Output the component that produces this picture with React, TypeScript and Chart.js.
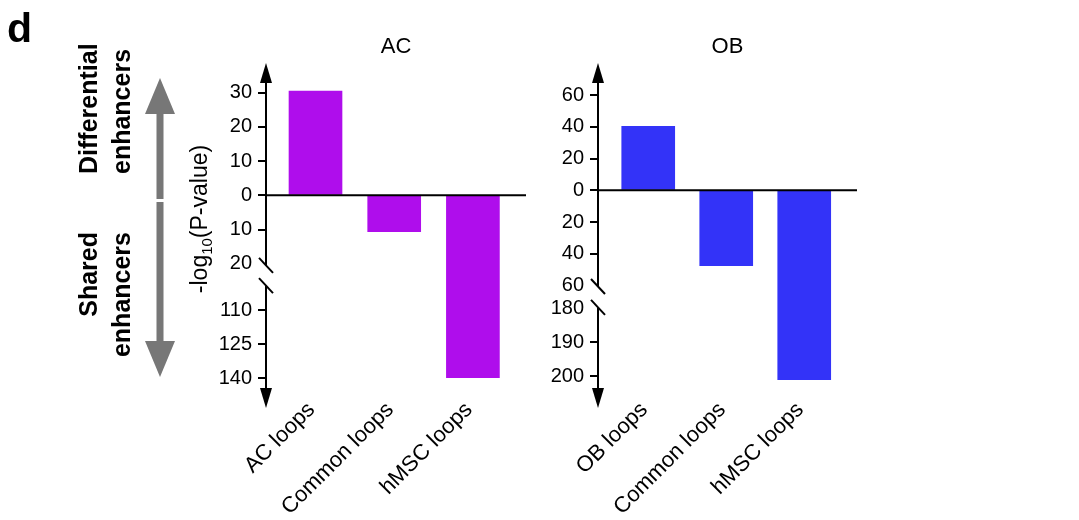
import React, { useEffect, useRef } from "react";
import { Chart, registerables } from "chart.js";

Chart.register(...registerables);

const FONT = '"Liberation Sans", Arial, Helvetica, sans-serif';

// ---- Data: AC panel (positive = differential enhancers, negative = shared enhancers)
const acCategories = ["AC loops", "Common loops", "hMSC loops"];
const acValues = [30.5, -10.6, -139.8];
const acTicksUp = [0, 10, 20, 30];
const acTicksDown = [10, 20, 110, 125, 140];

// ---- Data: OB panel
const obCategories = ["OB loops", "Common loops", "hMSC loops"];
const obValues = [40.4, -47.6, -201];
const obTicksUp = [0, 20, 40, 60];
const obTicksDown = [20, 40, 60, 180, 190, 200];

const W = 1079;
const H = 520;
const CHART_TOP = 60;
const CHART_BOTTOM = 392;
const Y_W = 70;
const LABEL_SHIFT_PX = -4;

interface Panel {
  title: string;
  categories: string[];
  values: number[];
  ticksUp: number[];
  ticksDown: number[];
  color: string;
  brkLow: number;
  brkHigh: number;
  hiStart: number;
  k: number;
  noMark: number[];
  slashes: [number, number];
  axisX: number;
  zeroY: number;
  pxPerUnit: number;
  right: number;
  xOffset: number;
  xSpacing: number;
  annotate: boolean;
}

const panels: Panel[] = [
  {
    title: "AC",
    categories: acCategories,
    values: acValues,
    ticksUp: acTicksUp,
    ticksDown: acTicksDown,
    color: "#AF0DEC",
    brkLow: 20,
    brkHigh: 110,
    hiStart: 33.6,
    k: 0.663,
    noMark: [20],
    slashes: [20.5, 26.4],
    axisX: 266,
    zeroY: 195.3,
    pxPerUnit: 3.42,
    right: 526,
    xOffset: 0.629,
    xSpacing: 78.7,
    annotate: true,
  },
  {
    title: "OB",
    categories: obCategories,
    values: obValues,
    ticksUp: obTicksUp,
    ticksDown: obTicksDown,
    color: "#3333F8",
    brkLow: 60,
    brkHigh: 180,
    hiStart: 74.45,
    k: 2.145,
    noMark: [60, 180],
    slashes: [60.7, 73.9],
    axisX: 598,
    zeroY: 190.3,
    pxPerUnit: 1.585,
    right: 857,
    xOffset: 0.644,
    xSpacing: 78,
    annotate: false,
  },
];

function toDisp(p: Panel, v: number): number {
  if (v >= 0) return v;
  const a = -v;
  if (a <= p.brkLow + 1e-9) return -a;
  return -(p.hiStart + (a - p.brkHigh) * p.k);
}

function line(ctx: CanvasRenderingContext2D, x1: number, y1: number, x2: number, y2: number) {
  ctx.beginPath();
  ctx.moveTo(x1, y1);
  ctx.lineTo(x2, y2);
  ctx.stroke();
}

function tri(ctx: CanvasRenderingContext2D, pts: number[]) {
  ctx.beginPath();
  ctx.moveTo(pts[0], pts[1]);
  ctx.lineTo(pts[2], pts[3]);
  ctx.lineTo(pts[4], pts[5]);
  ctx.closePath();
  ctx.fill();
}

function drawAnnotations(ctx: CanvasRenderingContext2D) {
  ctx.save();
  ctx.fillStyle = "#000";
  ctx.font = `bold 41px ${FONT}`;
  ctx.textAlign = "left";
  ctx.textBaseline = "alphabetic";
  ctx.fillText("d", 7, 42);

  // rotated side labels
  ctx.font = `bold 25px ${FONT}`;
  const rot = (text: string, x: number, y: number, align: CanvasTextAlign) => {
    ctx.save();
    ctx.translate(x, y);
    ctx.rotate(-Math.PI / 2);
    ctx.textAlign = align;
    ctx.textBaseline = "alphabetic";
    ctx.fillText(text, 0, 0);
    ctx.restore();
  };
  rot("Differential", 97, 174, "left");
  rot("enhancers", 130, 174, "left");
  rot("Shared", 97, 232, "right");
  rot("enhancers", 130, 232, "right");

  // grey double arrow
  ctx.fillStyle = "#777777";
  const cx = 160;
  ctx.fillRect(cx - 3.5, 110, 7, 89);
  tri(ctx, [cx, 78, cx - 15, 114, cx + 15, 114]);
  ctx.fillRect(cx - 3.5, 202, 7, 140);
  tri(ctx, [cx, 377, cx - 15, 341, cx + 15, 341]);

  // y-axis title with subscript
  ctx.fillStyle = "#000";
  ctx.save();
  ctx.translate(207, 219);
  ctx.rotate(-Math.PI / 2);
  ctx.textBaseline = "alphabetic";
  ctx.textAlign = "left";
  const mainFont = `23px ${FONT}`;
  const subFont = `15px ${FONT}`;
  ctx.font = mainFont;
  const w1 = ctx.measureText("-log").width;
  const w3 = ctx.measureText("(P-value)").width;
  ctx.font = subFont;
  const w2 = ctx.measureText("10").width;
  let x = -(w1 + w2 + w3) / 2;
  ctx.font = mainFont;
  ctx.fillText("-log", x, 0);
  x += w1;
  ctx.font = subFont;
  ctx.fillText("10", x, 5);
  x += w2;
  ctx.font = mainFont;
  ctx.fillText("(P-value)", x, 0);
  ctx.restore();
  ctx.restore();
}

function makeConfig(p: Panel): any {
  const ticks = [
    ...p.ticksUp.map((v) => ({ value: v, label: String(v), mark: true })),
    ...p.ticksDown.map((v) => ({ value: toDisp(p, -v), label: String(v), mark: !p.noMark.includes(v) })),
  ].sort((a, b) => a.value - b.value);

  const dMax = (p.zeroY - CHART_TOP) / p.pxPerUnit;
  const dMin = -(CHART_BOTTOM - p.zeroY) / p.pxPerUnit;
  const xMin = -p.xOffset;
  const xMax = (p.right - p.axisX) / p.xSpacing - p.xOffset;
  const labelShift = LABEL_SHIFT_PX / p.xSpacing;

  const overlay = {
    id: "overlay" + p.title,
    afterDraw(chart: any) {
      const { ctx, chartArea } = chart;
      const y = chart.scales.y;
      const ax = chartArea.left;
      const y0 = y.getPixelForValue(0);
      ctx.save();
      ctx.strokeStyle = "#000";
      ctx.fillStyle = "#000";
      ctx.lineWidth = 2;
      ctx.lineCap = "butt";
      line(ctx, ax, y0, chartArea.right, y0);
      const s1 = y.getPixelForValue(-p.slashes[0]);
      const s2 = y.getPixelForValue(-p.slashes[1]);
      const topTip = chartArea.top + 3;
      const botTip = chartArea.bottom + 16;
      line(ctx, ax, topTip + 15, ax, s1);
      line(ctx, ax, s2, ax, botTip - 15);
      tri(ctx, [ax, topTip, ax - 6, topTip + 20, ax + 6, topTip + 20]);
      tri(ctx, [ax, botTip, ax - 6, botTip - 20, ax + 6, botTip - 20]);
      for (const s of [s1, s2]) line(ctx, ax - 7, s - 7.5, ax + 7, s + 7.5);
      ctx.font = `22px ${FONT}`;
      ctx.textAlign = "center";
      ctx.textBaseline = "alphabetic";
      ctx.fillText(p.title, (ax + chartArea.right) / 2, 53);
      ctx.restore();
      if (p.annotate) drawAnnotations(ctx);
    },
  };

  return {
    type: "bar",
    data: {
      datasets: [
        {
          data: p.values.map((v, i) => ({ x: i, y: toDisp(p, v) })),
          backgroundColor: p.color,
          borderWidth: 0,
          barThickness: 53,
        },
      ],
    },
    options: {
      animation: false,
      responsive: false,
      devicePixelRatio: 1,
      layout: { padding: { left: p.axisX - Y_W, right: W - p.right, top: CHART_TOP, bottom: 0 } },
      plugins: { legend: { display: false }, tooltip: { enabled: false }, title: { display: false } },
      scales: {
        x: {
          type: "linear",
          offset: false,
          min: xMin,
          max: xMax,
          grid: { display: false, offset: false },
          border: { display: false },
          afterBuildTicks: (s: any) => {
            s.ticks = p.categories.map((_, i) => ({ value: i + labelShift }));
          },
          afterFit: (s: any) => {
            s.height = H - CHART_BOTTOM;
          },
          ticks: {
            autoSkip: false,
            minRotation: 45,
            maxRotation: 45,
            padding: -3,
            color: "#000",
            font: { family: FONT, size: 22 },
            callback: (_v: any, i: number) => p.categories[i],
          },
        },
        y: {
          type: "linear",
          min: dMin,
          max: dMax,
          border: { display: false },
          grid: {
            display: true,
            drawOnChartArea: false,
            drawTicks: true,
            tickLength: 8,
            lineWidth: 2,
            color: (c: any) => (ticks[c.index] && ticks[c.index].mark ? "#000" : "rgba(0,0,0,0)"),
          },
          afterBuildTicks: (s: any) => {
            s.ticks = ticks.map((t) => ({ value: t.value }));
          },
          afterFit: (s: any) => {
            s.width = Y_W;
          },
          ticks: {
            autoSkip: false,
            padding: 6,
            color: "#000",
            font: { family: FONT, size: 20 },
            callback: (_v: any, i: number) => ticks[i].label,
          },
        },
      },
    },
    plugins: [overlay],
  };
}

function PanelChart({ panel }: { panel: Panel }) {
  const ref = useRef<HTMLCanvasElement | null>(null);
  useEffect(() => {
    if (!ref.current) return;
    const chart = new Chart(ref.current, makeConfig(panel));
    return () => chart.destroy();
  }, [panel]);
  return (
    <canvas
      ref={ref}
      width={W}
      height={H}
      style={{ position: "absolute", left: 0, top: 0, width: W, height: H, display: "block" }}
    />
  );
}

export default function App() {
  return (
    <div style={{ position: "fixed", left: 0, top: 0, width: W, height: H, background: "#fff" }}>
      {panels.map((p) => (
        <PanelChart key={p.title} panel={p} />
      ))}
    </div>
  );
}
